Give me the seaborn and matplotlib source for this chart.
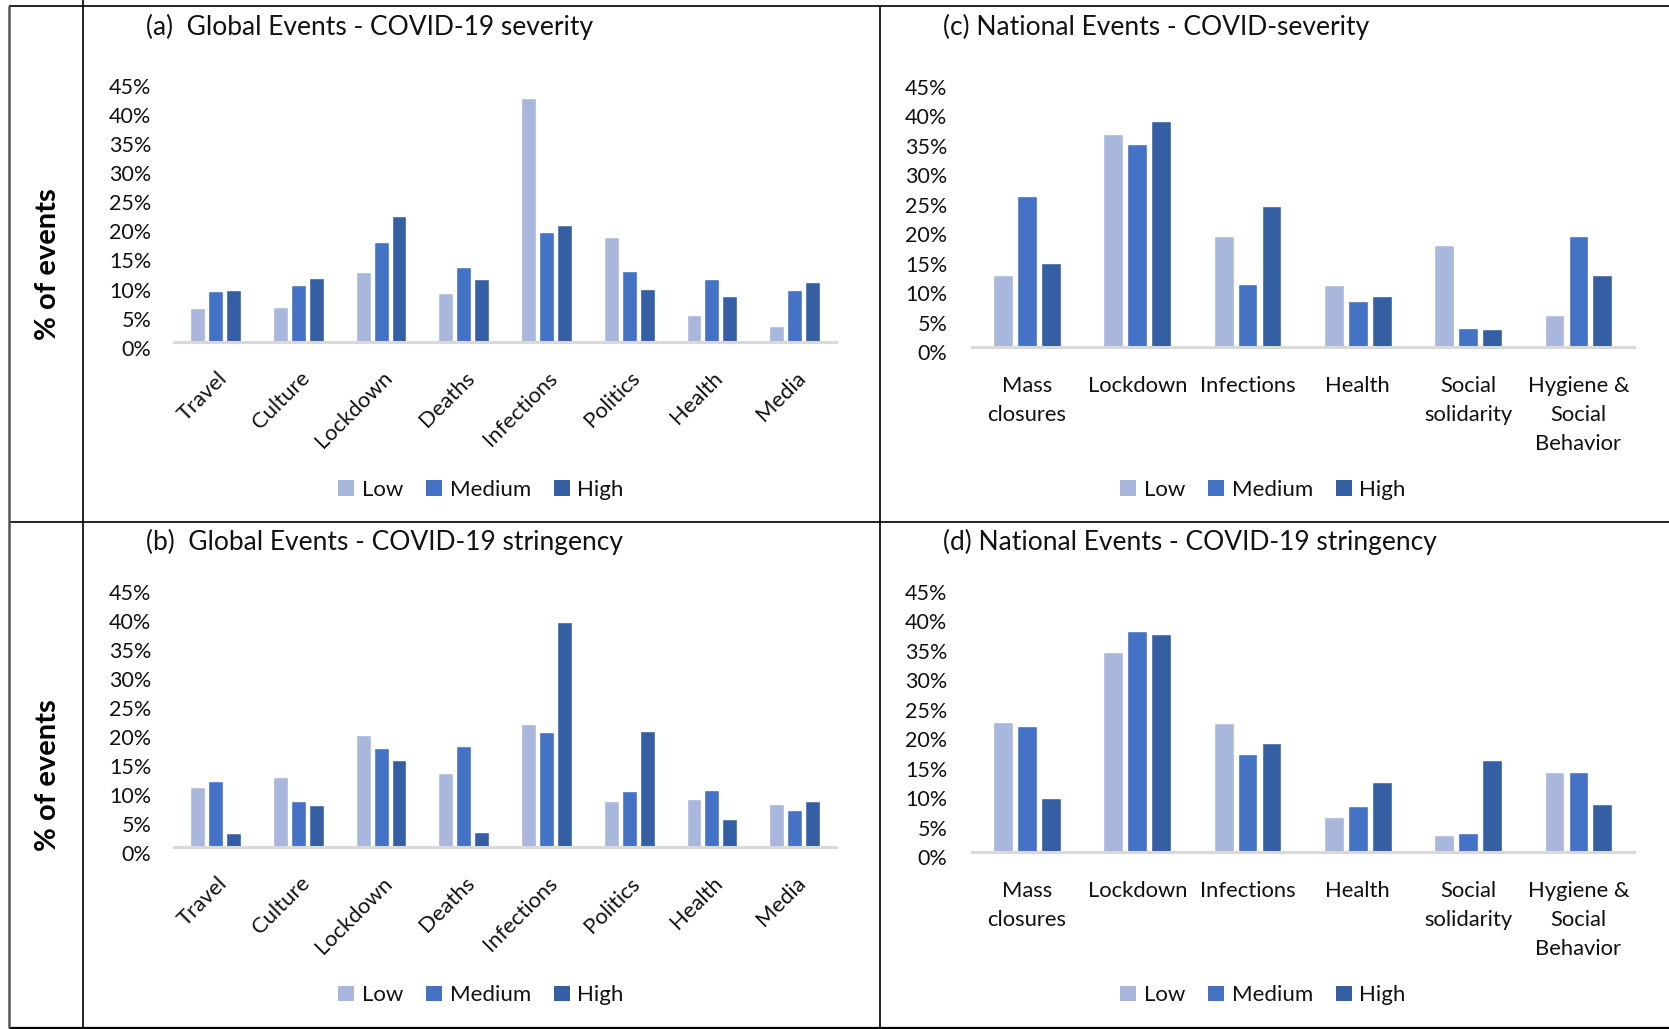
import numpy as np
import pandas as pd
import seaborn as sns
import matplotlib
matplotlib.use("Agg")
import matplotlib.pyplot as plt
from matplotlib.lines import Line2D
from matplotlib.patches import Patch
import matplotlib.transforms as mtrans

sns.set_theme(style="white")
plt.rcParams['font.family'] = ['Lato', 'DejaVu Sans']

# ---------------- data ----------------
levels = ["Low", "Medium", "High"]
global_cats = ["Travel", "Culture", "Lockdown", "Deaths", "Infections",
               "Politics", "Health", "Media"]
national_cats = ["Mass\nclosures", "Lockdown", "Infections", "Health",
                 "Social\nsolidarity", "Hygiene &\nSocial\nBehavior"]

a_low = [5.8, 6.0, 12.0, 8.4, 41.9, 18.0, 4.6, 2.7]
a_med = [8.7, 9.7, 17.1, 12.8, 18.9, 12.2, 10.8, 8.9]
a_high = [8.9, 11.0, 21.6, 10.8, 20.1, 9.1, 7.9, 10.3]

b_low = [10.4, 12.1, 19.3, 12.8, 21.2, 8.0, 8.3, 7.5]
b_med = [11.4, 8.0, 17.1, 17.5, 19.8, 9.7, 9.9, 6.4]
b_high = [2.5, 7.3, 15.0, 2.7, 38.8, 20.0, 4.9, 8.0]

c_low = [12.2, 36.1, 18.8, 10.5, 17.2, 5.4]
c_med = [25.5, 34.4, 10.6, 7.7, 3.2, 18.8]
c_high = [14.2, 38.3, 23.8, 8.6, 3.0, 12.2]

d_low = [22.0, 33.8, 21.8, 5.9, 2.8, 13.5]
d_med = [21.3, 37.4, 16.6, 7.7, 3.2, 13.5]
d_high = [9.1, 36.9, 18.4, 11.8, 15.5, 8.1]

ytick_values = [0, 5, 10, 15, 20, 25, 30, 35, 40, 45]
ytick_labels = ["0%", "5%", "10%", "15%", "20%", "25%", "30%", "35%", "40%", "45%"]

titles = ["(a)  Global Events - COVID-19 severity",
          "(b)  Global Events - COVID-19 stringency",
          "(c) National Events - COVID-severity",
          "(d) National Events - COVID-19 stringency"]

colors = {"Low": "#A9B7DC", "Medium": "#4472C4", "High": "#355FA3"}

# ---------------- figure ----------------
W, H = 1669, 1029
DPI = 100
fig = plt.figure(figsize=(W / DPI, H / DPI), dpi=DPI)


def px_rect(x0, x1, ybase, ytop):
    return [x0 / W, 1 - ybase / H, (x1 - x0) / W, (ybase - ytop) / H]


def make_df(cats, low, med, high):
    rows = []
    for lv, vals in zip(levels, [low, med, high]):
        for c, v in zip(cats, vals):
            rows.append({"cat": c, "level": lv, "val": v})
    return pd.DataFrame(rows)


TICK_FS = 15.5
CAT_FS = 15.8
TITLE_FS = 19
LEG_FS = 16
TXT = "#111111"


def draw_panel(rect, cats, low, med, high, rotated, ypad_px, ydrop_px):
    ax = fig.add_axes(rect)
    df = make_df(cats, low, med, high)
    sns.barplot(data=df, x="cat", y="val", hue="level", order=cats,
                hue_order=levels, palette=colors, saturation=1,
                width=0.65, gap=0.17, ax=ax, legend=False, errorbar=None)
    ax.set_ylim(0, 45)
    ax.set_xlim(-0.5, len(cats) - 0.5)
    ax.set_xlabel("")
    ax.set_ylabel("")
    for s in ["top", "right", "left"]:
        ax.spines[s].set_visible(False)
    ax.spines["bottom"].set_color("#D9D9D9")
    ax.spines["bottom"].set_linewidth(2.2)
    ax.grid(False)
    ax.set_yticks(ytick_values)
    ax.set_yticklabels(ytick_labels, fontsize=TICK_FS, color=TXT)
    ax.tick_params(axis="y", length=0, pad=ypad_px * 72 / DPI)
    off = mtrans.ScaledTranslation(0, -ydrop_px / DPI, fig.dpi_scale_trans)
    for lab in ax.get_yticklabels():
        lab.set_transform(lab.get_transform() + off)
    ax.set_xticks(range(len(cats)))
    if rotated:
        ax.set_xticklabels(cats, fontsize=CAT_FS, rotation=45, ha="right",
                           va="center", rotation_mode="anchor", color=TXT)
        ax.tick_params(axis="x", length=0, pad=33 * 72 / DPI)
        offx = mtrans.ScaledTranslation(8 / DPI, 0, fig.dpi_scale_trans)
        for lab in ax.get_xticklabels():
            lab.set_transform(lab.get_transform() + offx)
    else:
        ax.set_xticklabels(cats, fontsize=CAT_FS, ha="center", va="top",
                           linespacing=1.58, color=TXT)
        ax.tick_params(axis="x", length=0, pad=29 * 72 / DPI)
    return ax


ax_a = draw_panel(px_rect(174.3, 836, 341.7, 80.0), global_cats,
                  a_low, a_med, a_high, True, 23, 6)
ax_b = draw_panel(px_rect(174.3, 836, 847.3, 585.9), global_cats,
                  b_low, b_med, b_high, True, 23, 6)
ax_c = draw_panel(px_rect(971.8, 1633.6, 346.7, 81.2), national_cats,
                  c_low, c_med, c_high, False, 24.5, 5.6)
ax_d = draw_panel(px_rect(971.8, 1633.6, 851.7, 586.2), national_cats,
                  d_low, d_med, d_high, False, 24.5, 5.6)

# titles
fig.text(146 / W, 1 - 26.6 / H, titles[0], fontsize=TITLE_FS, ha="left", va="center", color=TXT)
fig.text(146 / W, 1 - 541.8 / H, titles[1], fontsize=TITLE_FS, ha="left", va="center", color=TXT)
fig.text(943 / W, 1 - 26.6 / H, titles[2], fontsize=TITLE_FS, ha="left", va="center", color=TXT)
fig.text(943 / W, 1 - 541.8 / H, titles[3], fontsize=TITLE_FS, ha="left", va="center", color=TXT)

# legends
handles = [Patch(facecolor=colors[l], edgecolor="none", label=l) for l in levels]
for cx, cy in [(481, 489.6), (1263, 489.6), (481, 995.2), (1263, 995.2)]:
    fig.legend(handles=handles, loc="center", bbox_to_anchor=(cx / W, 1 - cy / H),
               ncol=3, frameon=False, fontsize=LEG_FS, handlelength=0.7,
               handleheight=0.7, handletextpad=0.35, columnspacing=1.05,
               borderaxespad=0, borderpad=0, labelcolor=TXT)

# y labels
for cy in [264, 775]:
    fig.text(48 / W, 1 - cy / H, "% of events", rotation=90, fontsize=21,
             fontweight="bold", ha="center", va="center", color="#000000")

# table lines
def fline(x0, y0, x1, y1, color="black", lw=1.2):
    fig.add_artist(Line2D([x0 / W, x1 / W], [1 - y0 / H, 1 - y1 / H],
                          transform=fig.transFigure, color=color, lw=lw,
                          solid_capstyle="butt"))

fline(9.3, 6, W, 6)
fline(9.3, 521.7, W, 521.7)
fline(9.3, 1027.5, W, 1027.5, lw=1.6)
fline(9.3, 6, 9.3, 1028, color="#555555", lw=1.8)
fline(83.3, 0, 83.3, 1028)
fline(880.3, 6, 880.3, 1028)

fig.savefig("out.png", dpi=DPI)
